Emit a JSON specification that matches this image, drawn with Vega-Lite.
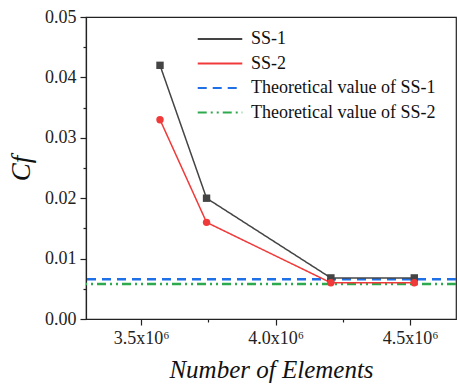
{
  "$schema": "https://vega.github.io/schema/vega-lite/v6.json",
  "autosize": {"type": "none"},
  "padding": {"left": 86, "top": 17, "right": 1, "bottom": 66},
  "width": 370,
  "height": 302,
  "background": "white",
  "config": {
    "font": "Liberation Serif",
    "view": {"stroke": "#222", "strokeWidth": 1.2},
    "style": {
      "guide-label": {"font": "Liberation Serif", "fontSize": 18, "fill": "#222"},
      "guide-title": {"font": "Liberation Serif"}
    },
    "axis": {
      "labelFont": "Liberation Serif",
      "titleFont": "Liberation Serif",
      "labelFontSize": 18,
      "labelColor": "#222",
      "domainColor": "#222",
      "tickColor": "#222",
      "domainWidth": 1.2,
      "tickWidth": 1.2,
      "grid": false,
      "titleFontStyle": "italic",
      "titleFontWeight": "normal",
      "titleColor": "#111"
    },
    "legend": {
      "labelFont": "Liberation Serif",
      "labelFontSize": 18,
      "labelColor": "#111",
      "labelLimit": 400
    }
  },
  "datasets": {
    "sim": [
      {"series": "SS-1", "n": 3570000, "cf": 0.042},
      {"series": "SS-1", "n": 3743000, "cf": 0.020},
      {"series": "SS-1", "n": 4205000, "cf": 0.0068},
      {"series": "SS-1", "n": 4515000, "cf": 0.0068},
      {"series": "SS-2", "n": 3570000, "cf": 0.033},
      {"series": "SS-2", "n": 3743000, "cf": 0.016},
      {"series": "SS-2", "n": 4205000, "cf": 0.006},
      {"series": "SS-2", "n": 4515000, "cf": 0.006}
    ],
    "theory": [
      {"series": "Theoretical value of SS-1", "cf": 0.0066},
      {"series": "Theoretical value of SS-2", "cf": 0.0058}
    ]
  },
  "layer": [
    {
      "data": {"name": "theory"},
      "mark": {"type": "rule", "strokeWidth": 2.5},
      "encoding": {
        "y": {"field": "cf", "type": "quantitative"},
        "color": {"field": "series", "type": "nominal"},
        "strokeDash": {"field": "series", "type": "nominal"}
      }
    },
    {
      "data": {"name": "sim"},
      "mark": {"type": "line", "strokeWidth": 1.5},
      "encoding": {
        "x": {"field": "n", "type": "quantitative"},
        "y": {"field": "cf", "type": "quantitative"},
        "color": {"field": "series", "type": "nominal"},
        "strokeDash": {"field": "series", "type": "nominal"}
      }
    },
    {
      "data": {"name": "sim"},
      "mark": {"type": "point", "filled": true, "size": 55, "opacity": 1},
      "encoding": {
        "x": {"field": "n", "type": "quantitative"},
        "y": {"field": "cf", "type": "quantitative"},
        "color": {"field": "series", "type": "nominal"},
        "shape": {"field": "series", "type": "nominal", "legend": null,
          "scale": {"domain": ["SS-1", "SS-2"], "range": ["square", "circle"]}}
      }
    }
  ],
  "resolve": {"scale": {"x": "shared", "y": "shared"}},
  "encoding": {
    "x": {
      "type": "quantitative",
      "title": "Number of Elements",
      "scale": {"domain": [3295000, 4670000], "nice": false, "zero": false},
      "axis": {
        "values": [3500000, 3750000, 4000000, 4250000, 4500000],
        "labelExpr": "datum.value % 500000 == 0 ? format(datum.value/1000000, '.1f') + 'x10⁶' : ''",
        "tickSize": {"condition": {"test": "datum.value % 500000 == 0", "value": 6}, "value": 3},
        "labelFont": "Liberation Serif",
        "labelFontSize": 18,
        "labelPadding": 4,
        "titleFontSize": 25,
        "titlePadding": 10
      }
    },
    "y": {
      "type": "quantitative",
      "title": "Cf",
      "scale": {"domain": [0, 0.05], "nice": false},
      "axis": {
        "values": [0, 0.005, 0.01, 0.015, 0.02, 0.025, 0.03, 0.035, 0.04, 0.045, 0.05],
        "labelExpr": "round(datum.value*1000) % 10 == 0 ? format(datum.value, '.2f') : ''",
        "tickSize": {"condition": {"test": "round(datum.value*1000) % 10 == 0", "value": 6}, "value": 3},
        "labelFont": "Liberation Serif",
        "labelFontSize": 18,
        "labelPadding": 4,
        "titleFontSize": 27,
        "titlePadding": 9
      }
    },
    "color": {
      "field": "series", "type": "nominal",
      "scale": {
        "domain": ["SS-1", "SS-2", "Theoretical value of SS-1", "Theoretical value of SS-2"],
        "range": ["#444444", "#f03a3a", "#1f6fe6", "#2eaa4e"]
      },
      "legend": {
        "title": null,
        "orient": "none",
        "legendX": 119,
        "legendY": 7,
        "symbolType": "M-1.65,0H1.65",
        "symbolSize": 729,
        "symbolStrokeWidth": 2.2,
        "rowPadding": 0.5,
        "labelOffset": 16
      }
    },
    "strokeDash": {
      "field": "series", "type": "nominal",
      "scale": {
        "domain": ["SS-1", "SS-2", "Theoretical value of SS-1", "Theoretical value of SS-2"],
        "range": [[1, 0], [1, 0], [9, 6], [9, 4, 2, 4, 2, 4]]
      },
      "legend": {
        "title": null,
        "orient": "none",
        "legendX": 119,
        "legendY": 7,
        "symbolType": "M-1.65,0H1.65",
        "symbolSize": 729,
        "symbolStrokeWidth": 2.2,
        "rowPadding": 0.5,
        "labelOffset": 16
      }
    }
  }
}
